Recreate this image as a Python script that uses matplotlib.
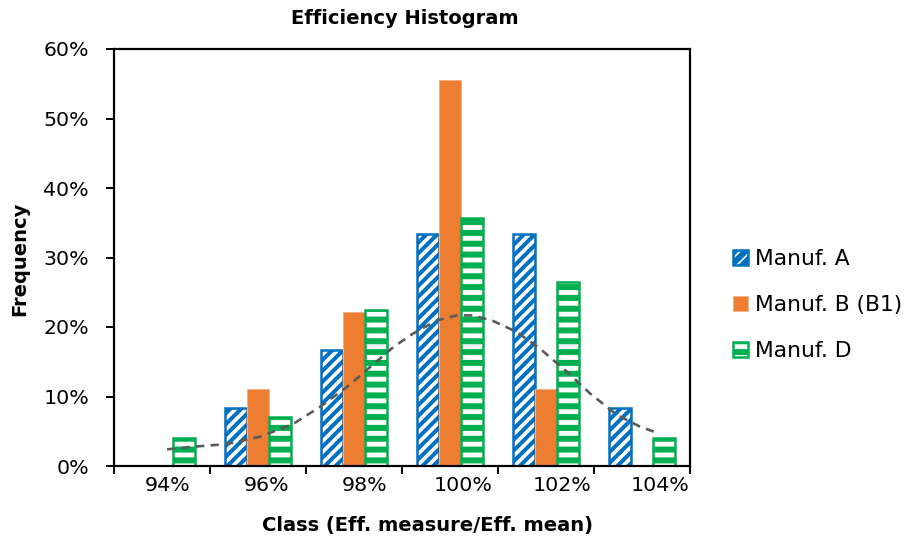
import matplotlib
matplotlib.use('Agg')
import matplotlib.pyplot as plt
import numpy as np

# data
classes = ['94%', '96%', '98%', '100%', '102%', '104%']
class_vals = [94, 96, 98, 100, 102, 104]
manuf_a = [0.0, 8.33, 16.67, 33.33, 33.33, 8.33]
manuf_b = [0.0, 11.1, 22.2, 55.6, 11.1, 0.0]
manuf_d = [4.1, 7.1, 22.4, 35.7, 26.5, 4.1]

curve_x = [93.98, 94.51, 95.20, 95.87, 96.54, 97.09, 97.64, 98.11, 98.58, 98.98,
           99.47, 99.87, 100.20, 100.61, 101.09, 101.56, 102.11, 102.58, 103.13,
           103.60, 103.94]
curve_y = [2.40, 2.77, 3.16, 4.21, 6.03, 8.51, 11.38, 14.25, 17.12, 19.05,
           20.96, 21.67, 21.67, 20.86, 19.28, 16.89, 13.54, 10.43, 7.32,
           5.64, 4.78]

DPI = 130
W, H = 906, 542


def pt(px):
    # pixel size -> points at the figure dpi
    return px * 72.0 / DPI


BLUE = '#0070C0'
ORANGE = '#ED7D31'
GREEN = '#00B050'

plt.rcParams['font.family'] = ['DejaVu Sans']

fig = plt.figure(figsize=(W / DPI, H / DPI), dpi=DPI)
ax = fig.add_axes([114 / W, 1 - 466 / H, (690 - 114) / W, (466 - 49) / H])

x = np.arange(len(classes))
bw = 0.23

plt.rcParams['hatch.linewidth'] = pt(4)
bars_a = ax.bar(x - bw, manuf_a, bw, facecolor='white', edgecolor=BLUE,
                linewidth=pt(2.5), hatch='////', label='Manuf. A')
for p in bars_a:
    if hasattr(p, 'set_hatch_linewidth'):
        p.set_hatch_linewidth(pt(4))

bars_b = ax.bar(x, manuf_b, bw, color=ORANGE, edgecolor='#F4B183',
                linewidth=pt(1), label='Manuf. B (B1)')

plt.rcParams['hatch.linewidth'] = pt(6)
bars_d = ax.bar(x + bw, manuf_d, bw, facecolor='white', edgecolor=GREEN,
                linewidth=pt(2.5), hatch='--', label='Manuf. D')
for p in bars_d:
    if hasattr(p, 'set_hatch_linewidth'):
        p.set_hatch_linewidth(pt(6))

ax.set_xlim(-0.5, len(classes) - 0.5)
ax.set_ylim(0, 60)
ax.set_xticks(np.arange(len(classes) + 1) - 0.5)
ax.set_xticklabels([])
ax.set_yticks(np.arange(0, 61, 10))
ax.set_yticklabels([f'{v}%' for v in range(0, 61, 10)], fontsize=pt(20.5))
ax.tick_params(axis='both', direction='out', length=pt(8), width=pt(2),
               color='black')
ax.tick_params(axis='y', pad=pt(17))
for s in ax.spines.values():
    s.set_linewidth(pt(2.2))
    s.set_color('black')

# secondary x axis for the curve and the class labels
ax2 = ax.twiny()
ax2.set_xlim(94 - 54 / 49.2, 104 + 30 / 49.2)
ax2.plot(curve_x, curve_y, color='#595959', linewidth=pt(2.6),
         linestyle=(0, (3.2, 2.4)))
ax2.xaxis.set_ticks_position('bottom')
ax2.set_xticks(class_vals)
ax2.set_xticklabels(classes, fontsize=pt(20.5))
ax2.tick_params(axis='x', length=0, pad=pt(10))
for s in ax2.spines.values():
    s.set_visible(False)

fig.text(405 / W, 1 - 18 / H, 'Efficiency Histogram', fontsize=pt(19.5),
         fontweight='bold', ha='center', va='center')
fig.text(20 / W, 1 - 259 / H, 'Frequency', fontsize=pt(19.5),
         fontweight='bold', rotation=90, ha='center', va='center')
fig.text(428 / W, 1 - 525 / H, 'Class (Eff. measure/Eff. mean)',
         fontsize=pt(19.5), fontweight='bold', ha='center', va='center')

fig.legend(handles=[bars_a, bars_b, bars_d], loc='center left',
           bbox_to_anchor=(733 / W, 1 - 305 / H), frameon=False,
           fontsize=pt(21.8), handlelength=0.69, handleheight=0.69,
           handletextpad=0.33, labelspacing=1.2, borderaxespad=0,
           borderpad=0)

fig.savefig('out.png', dpi=DPI)
